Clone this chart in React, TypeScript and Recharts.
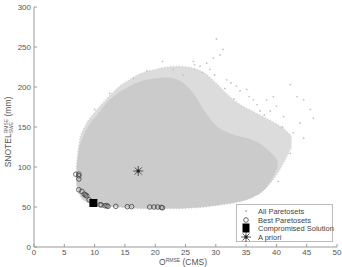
import { ComposedChart, Area, Scatter, XAxis, YAxis } from 'recharts'

// outline of the dense cloud of all paretosets: x, [lower, upper]
const cloudX = [7.0, 7.3, 7.8, 8.5, 9.5, 10.5, 12, 14, 16, 18, 20, 22, 24, 26, 28, 30, 32, 34, 36, 37.5, 38.5, 39.5, 40.2]
const cloudLow = [80, 70, 63, 58, 55, 53, 51, 50, 49, 48, 48, 48, 48, 49, 50, 52, 54, 57, 62, 68, 76, 88, 100]
const cloudHigh = [95, 118, 132, 145, 157, 166, 180, 193, 202, 208, 211, 212, 208, 195, 172, 152, 143, 138, 134, 128, 122, 115, 108]

// thinner, speckled fringe around the dense cloud
const fringeX = [7.0, 7.5, 8.5, 10, 12, 14, 16, 18, 20, 22, 24, 26, 28, 30, 32, 34, 36, 38, 40, 41.5, 42.5]
const fringeLow = [78, 66, 57, 53, 51, 50, 49, 48, 48, 48, 48, 49, 50, 52, 54, 57, 62, 72, 90, 110, 125]
const fringeHigh = [100, 132, 152, 168, 185, 200, 210, 218, 222, 225, 226, 224, 218, 205, 190, 178, 170, 162, 154, 146, 138]

// scattered paretosets outside the dense cloud
const sparseX = [30.1, 31.2, 30.7, 29.6, 28.5, 27.4, 26.3, 21.2, 33.4, 31.8, 35.1, 36.2, 38.4, 39.5, 42.3, 43.4, 44.5, 46.1, 45.6, 43.9, 42.8, 44.5, 42.3, 40.3, 41.2, 40.0, 37.3, 24.6, 23.0, 18.6, 16.4, 34.0, 32.5, 29.0, 27.8, 36.8, 39.0, 33.0, 35.5, 41.0, 29.8, 31.5, 38.0, 26.5, 12.5, 10.0]
const sparseY = [260, 247, 240, 236, 230, 226, 232, 232, 201, 209, 197, 184, 184, 188, 203, 188, 184, 161, 172, 155, 143, 136, 117, 82, 163, 176, 170, 215, 222, 220, 211, 195, 205, 222, 218, 178, 170, 185, 188, 150, 215, 198, 165, 228, 192, 172]

const bestX = [6.9, 7.4, 7.4, 7.4, 7.4, 7.9, 8.3, 8.5, 8.7, 9.1, 10.9, 11.1, 11.7, 12.0, 12.2, 13.5, 15.4, 16.1, 19.1, 19.8, 20.4, 21.0, 21.2]
const bestY = [91, 91, 89, 85, 71.5, 69.5, 66, 65, 64, 59, 53, 52.5, 51.6, 51.6, 50.8, 50.8, 50.4, 50.4, 50, 50, 50, 49.5, 49]

const compromised = { x: 9.8, y: 55 }
const apriori = { x: 17.2, y: 95 }

const xTicks = [0, 5, 10, 15, 20, 25, 30, 35, 40, 45, 50]
const yTicks = [0, 50, 100, 150, 200, 250, 300]
const legendLabels = ['All Paretosets', 'Best Paretosets', 'Compromised Solution', 'A priori']

const cloudData = cloudX.map((x, i) => ({ x, range: [cloudLow[i], cloudHigh[i]] }))
const fringeData = fringeX.map((x, i) => ({ x, range: [fringeLow[i], fringeHigh[i]] }))
const sparseData = sparseX.map((x, i) => ({ x, y: sparseY[i] }))
const bestData = bestX.map((x, i) => ({ x, y: bestY[i] }))

const AXIS = '#9a9a9a'
const TEXT = '#555'
const FONT = 'Liberation Sans, Arial, sans-serif'

const Dot = ({ cx, cy }: any) => <circle cx={cx} cy={cy} r={0.9} fill="#c4c4c4" />
const Ring = ({ cx, cy }: any) => <circle cx={cx} cy={cy} r={2.3} fill="none" stroke="#444" strokeWidth={0.8} />
const Square = ({ cx, cy }: any) => <rect x={cx - 4} y={cy - 4} width={8} height={8} fill="#000" />
const Star = ({ cx, cy }: any) => {
  const r = 5
  const d = r * 0.72
  return (
    <g stroke="#333" strokeWidth={0.8}>
      <line x1={cx - r} y1={cy} x2={cx + r} y2={cy} />
      <line x1={cx} y1={cy - r} x2={cx} y2={cy + r} />
      <line x1={cx - d} y1={cy - d} x2={cx + d} y2={cy + d} />
      <line x1={cx - d} y1={cy + d} x2={cx + d} y2={cy - d} />
      <circle cx={cx} cy={cy} r={1.3} fill="#111" />
    </g>
  )
}

function LegendBox() {
  const markers = [
    <circle cx={6} cy={4} r={0.9} fill="#aaa" />,
    <circle cx={6} cy={4} r={2.3} fill="none" stroke="#444" strokeWidth={0.8} />,
    <rect x={2.5} y={-0.5} width={7} height={9} fill="#000" />,
    <Star cx={6} cy={4} />,
  ]
  return (
    <div
      style={{
        position: 'absolute', left: 236, top: 204, width: 97, height: 38,
        border: '1px solid #bbb', background: '#fff', boxSizing: 'border-box',
        fontFamily: FONT, fontSize: 7.5, color: '#444', padding: '2px 0 0 3px',
      }}
    >
      {legendLabels.map((label, i) => (
        <div key={label} style={{ display: 'flex', alignItems: 'center', height: 8.7, whiteSpace: 'nowrap' }}>
          <svg width={14} height={9} style={{ overflow: 'visible', marginRight: 4 }}>{markers[i]}</svg>
          {label}
        </div>
      ))}
    </div>
  )
}

export default function App() {
  return (
    <div style={{ position: 'absolute', left: 0, top: 0, width: 342, height: 267, background: '#fff', overflow: 'hidden' }}>
      <ComposedChart width={342} height={267} margin={{ top: 7, right: 5, bottom: 0, left: 0 }}>
        <XAxis
          dataKey="x" type="number" domain={[0, 50]} ticks={xTicks} height={20}
          stroke={AXIS} tickSize={-3} tickMargin={5}
          tick={{ fontSize: 8, fill: TEXT, fontFamily: FONT }} allowDataOverflow
        />
        <XAxis
          xAxisId="top" orientation="top" type="number" domain={[0, 50]} ticks={xTicks} height={0}
          stroke={AXIS} tickSize={-3} tickFormatter={() => ''}
        />
        <YAxis
          type="number" domain={[0, 300]} ticks={yTicks} width={34}
          stroke={AXIS} tickSize={-3} tickMargin={6}
          tick={{ fontSize: 8, fill: TEXT, fontFamily: FONT }} allowDataOverflow
        />
        <YAxis
          yAxisId="right" orientation="right" type="number" domain={[0, 300]} ticks={yTicks} width={0}
          stroke={AXIS} tickSize={-3} tickFormatter={() => ''}
        />
        <Area
          data={fringeData} dataKey="range" type="monotone" fill="#dcdcdc" fillOpacity={1}
          stroke="#d4d4d4" strokeWidth={1.5} strokeDasharray="1 2" isAnimationActive={false}
        />
        <Area
          data={cloudData} dataKey="range" type="monotone" fill="#cbcbcb" fillOpacity={1}
          stroke="none" isAnimationActive={false}
        />
        <Scatter data={sparseData} dataKey="y" shape={Dot} isAnimationActive={false} />
        <Scatter data={bestData} dataKey="y" shape={Ring} isAnimationActive={false} />
        <Scatter data={[compromised]} dataKey="y" shape={Square} isAnimationActive={false} />
        <Scatter data={[apriori]} dataKey="y" shape={Star} isAnimationActive={false} />
      </ComposedChart>
      <LegendBox />
      <div
        style={{
          position: 'absolute', left: 8, top: 132, transform: 'translate(-50%, -50%) rotate(-90deg)',
          fontFamily: FONT, fontSize: 8.5, color: TEXT, whiteSpace: 'nowrap',
        }}
      >
        SNOTEL<span style={{ display: 'inline-flex', flexDirection: 'column', fontSize: 5, lineHeight: '5px', verticalAlign: 'middle' }}><span>RMSE</span><span>SWE</span></span> (mm)
      </div>
      <div
        style={{
          position: 'absolute', left: 183, top: 258, height: 9, transform: 'translateX(-50%)',
          fontFamily: FONT, fontSize: 8.5, lineHeight: '9px', color: TEXT, whiteSpace: 'nowrap',
        }}
      >
        O<sup style={{ fontSize: 5, lineHeight: 0, verticalAlign: 3 }}>RMSE</sup> (CMS)
      </div>
    </div>
  )
}
